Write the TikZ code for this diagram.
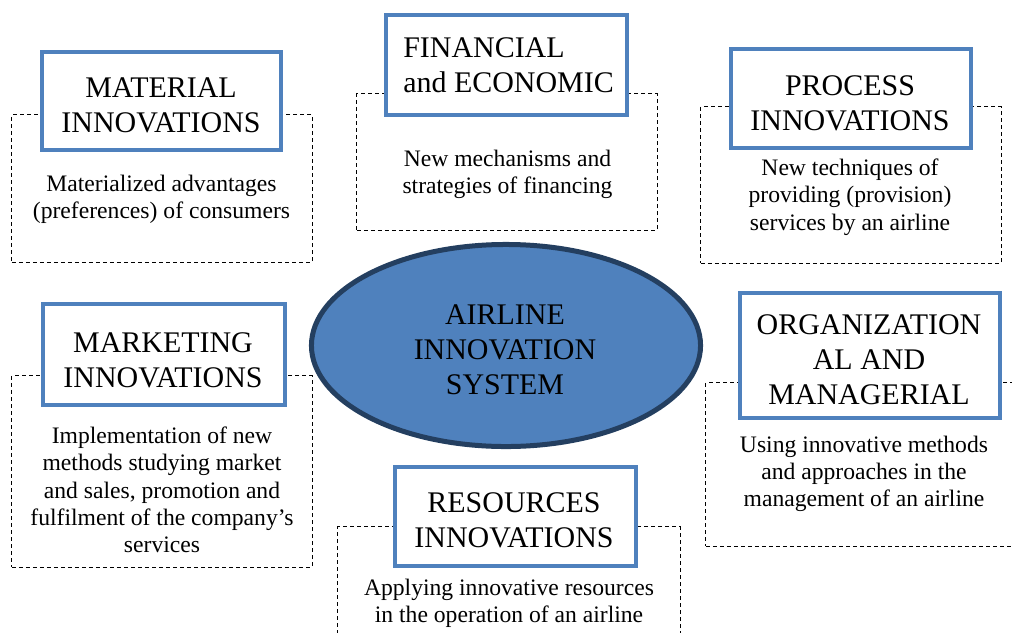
\documentclass[tikz,border=0pt]{standalone}
\usepackage{fontspec}
\setmainfont{Liberation Serif}
\usetikzlibrary{shapes.geometric}
\definecolor{boxblue}{HTML}{4F81BD}
\definecolor{rimblue}{HTML}{243F60}
\tikzset{
  headbox/.style={shape=rectangle, draw=boxblue, fill=white, line width=0.1cm, inner sep=0, minimum width=6.025cm, minimum height=2.475cm},
  descframe/.style={shape=rectangle, draw, line width=0.025cm, dash pattern=on 0.1cm off 0.075cm, inner sep=0, minimum width=7.5cm},
  headtext/.style={anchor=center, align=center, inner sep=0, font=\fontsize{21.3}{24.8}\selectfont},
  desctext/.style={anchor=center, align=center, inner sep=0, font=\fontsize{16.8}{19.4}\selectfont},
}
\begin{document}
\begin{tikzpicture}[x=0.025cm, y=-0.025cm]
          \useasboundingbox (0, 0) rectangle (1012, 632);
          \clip (0, 0) rectangle (1012, 632);
          % Dashed frames:
          \node[descframe, minimum height=3.675cm] (matframe) at (162, 188.5){};
          \node[descframe, minimum height=3.4cm] (finframe) at (507, 162){};
          \node[descframe, minimum height=3.9cm] (procframe) at (851, 185){};
          \node[descframe, minimum height=4.775cm] (mktframe) at (162, 471.5){};
          \node[descframe, minimum width=7.85cm, minimum height=4.075cm] (orgframe) at (863, 464.5){};
          \node[descframe, minimum width=8.55cm, minimum height=3.075cm] (resframe) at (509, 588.5){};
          % Centre ellipse:
          \node[shape=ellipse, draw=rimblue, fill=boxblue, line width=0.125cm, inner sep=0, minimum width=9.725cm, minimum height=5.05cm] (hub) at (506, 345.5){} node [headtext] (hubtitle) at (505, 349.5){AIRLINE\\INNOVATION\\SYSTEM};
          % Boxes and texts:
          \node[headbox, minimum width=5.975cm, minimum height=2.45cm] (matbox) at (161.5, 101){} node [headtext] (mattitle) at (161, 105.5){MATERIAL\\INNOVATIONS};
          \node[desctext] (mattext) at (161.5, 199){Materialized advantages\\(preferences) of consumers};
          \node[headbox, minimum height=2.5cm] (finbox) at (506.5, 65){} node [headtext, anchor=west, align=left] (fintitle) at (403, 65){FINANCIAL\\and ECONOMIC};
          \node[desctext] (fintext) at (507.5, 174){New mechanisms and\\strategies of financing};
          \node[headbox, minimum width=6cm] (procbox) at (851, 98.5){} node [headtext] (proctitle) at (850, 103){PROCESS\\INNOVATIONS};
          \node[desctext] (proctext) at (850, 197){New techniques of\\providing (provision)\\services by an airline};
          \node[headbox, minimum width=6.05cm, minimum height=2.525cm] (mktbox) at (164, 354.5){} node [headtext] (mkttitle) at (163, 360){MARKETING\\INNOVATIONS};
          \node[desctext] (mkttext) at (162, 490){Implementation of new\\methods studying market\\and sales, promotion and\\fulfilment of the company’s\\services};
          \node[headbox, minimum width=6.5cm, minimum height=3.125cm] (orgbox) at (870, 355.5){} node [headtext] (orgtitle) at (869, 359.5){ORGANIZATION\\AL AND\\MANAGERIAL};
          \node[desctext] (orgtext) at (864, 474){Using innovative methods\\and approaches in the\\management of an airline};
          \node[headbox] (resbox) at (515.5, 516.5){} node [headtext] (restitle) at (514, 520.5){RESOURCES\\INNOVATIONS};
          \node[desctext] (restext) at (509, 603){Applying innovative resources\\in the operation of an airline};
\end{tikzpicture}
\end{document}
